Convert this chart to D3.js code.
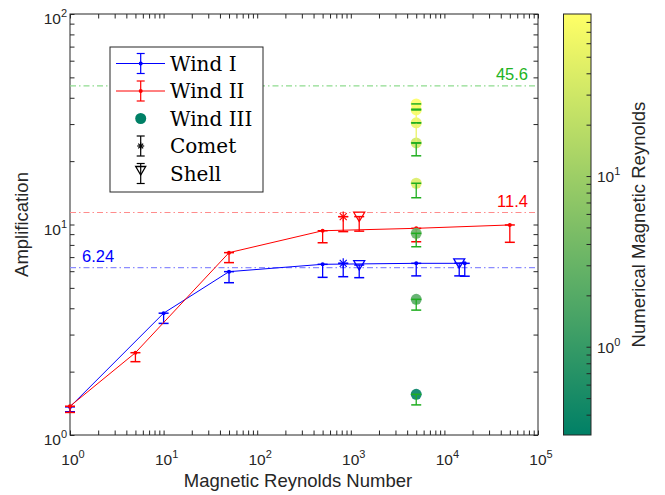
<!DOCTYPE html>
<html lang="en">
<head>
<meta charset="utf-8">
<title>Amplification</title>
<script src="https://cdn.jsdelivr.net/npm/d3@7"></script>
<style>
    body { margin: 0; background: #fff; }
    text { font-family: "Liberation Sans", Arial, sans-serif; fill: #262626; }
</style>
</head>
<body>
<svg id="chart" width="665" height="495"></svg>
<script>
// Wind I
const wind1Rm = [1, 10, 50, 500, 5000, 16500]
const wind1Amp = [1.36, 3.79, 5.97, 6.47, 6.54, 6.54]
const wind1Lo = [1.29, 3.39, 5.29, 5.61, 5.70, 5.68]
// Wind II
const wind2Rm = [1, 5, 50, 500, 5000, 50000]
const wind2Amp = [1.37, 2.46, 7.35, 9.34, 9.59, 9.95]
const wind2Lo = [1.28, 2.23, 6.59, 8.19, 8.28, 8.23]
// Wind III, all at Rm = 5000, coloured by numerical Rm
const wind3Rm = 5000
const wind3Amp = [37.4, 35.0, 30.4, 24.4, 15.7, 9.08, 4.41, 1.56]
const wind3Lo = [35.3, 30.4, 24.4, 21.2, 13.4, 7.84, 3.92, 1.39]
const wind3Num = [85, 75, 55, 30, 40, 3, 2.2, 0.32]
// Comet and Shell runs
const cometRm = [830, 830]
const cometAmp = [6.54, 10.9]
const cometLo = [5.65, 9.25]
const cometSeries = ['Wind I', 'Wind II']
const shellRm = [1230, 1230, 14400]
const shellAmp = [6.42, 10.9, 6.55]
const shellLo = [5.59, 9.3, 5.70]
const shellSeries = ['Wind I', 'Wind II', 'Wind I']
// saturation levels
const refValues = [45.6, 11.4, 6.24]
const refSeries = ['Wind III', 'Wind II', 'Wind I']
const legendLabels = ['Wind I', 'Wind II', 'Wind III', 'Comet', 'Shell']
const xMajor = [1, 10, 100, 1000, 10000, 100000]
const yMajor = [1, 10, 100]
const cbMajor = [1, 10]
const cbDomain = [0.304, 89]

const colors = { 'Wind I': '#0000ff', 'Wind II': '#ff0000', 'Wind III': '#1fae1f' }
const refLineColors = { 'Wind I': '#8c8cff', 'Wind II': '#ff8c8c', 'Wind III': '#8fdc8f' }
const refLabelColors = { 'Wind I': '#0000ff', 'Wind II': '#ff0000', 'Wind III': '#22b322' }

const svg = d3.select('#chart')
const x = d3.scaleLog().domain([1, 1e5]).range([70, 538])
const y = d3.scaleLog().domain([1, 100]).range([435, 14])
const cb = d3.scaleLog().domain(cbDomain).range([435, 14])
const summer = t => d3.rgb(255 * t, 255 * (0.5 + 0.5 * t), 102)
const tOf = v => Math.max(0, Math.min(1, (Math.log10(v) - Math.log10(cbDomain[0])) / (Math.log10(cbDomain[1]) - Math.log10(cbDomain[0]))))

function supLabel(sel, v) {
    sel.append('tspan').text('10')
    sel.append('tspan').attr('dy', -7).attr('font-size', 11).text(Math.round(Math.log10(v)))
}

// axes box and ticks
const tk = 4.5
const axisG = svg.append('g')
axisG.append('g').attr('transform', 'translate(0,435)')
    .call(d3.axisBottom(x).tickValues(x.ticks()).tickSize(-tk).tickFormat(''))
axisG.append('g').attr('transform', 'translate(0,14)')
    .call(d3.axisTop(x).tickValues(x.ticks()).tickSize(-tk).tickFormat(''))
axisG.append('g').attr('transform', 'translate(70,0)')
    .call(d3.axisLeft(y).tickValues(y.ticks()).tickSize(-tk).tickFormat(''))
axisG.append('g').attr('transform', 'translate(538,0)')
    .call(d3.axisRight(y).tickValues(y.ticks()).tickSize(-tk).tickFormat(''))
axisG.selectAll('.domain').remove()
axisG.selectAll('line').attr('stroke', '#262626')
svg.append('rect').attr('x', 70).attr('y', 14).attr('width', 468).attr('height', 421)
    .attr('fill', 'none').attr('stroke', '#262626').attr('stroke-width', 1)

xMajor.forEach(v => {
    svg.append('text').attr('x', x(v) + 3).attr('y', 465).attr('font-size', 15.5)
        .attr('text-anchor', 'middle').call(supLabel, v)
})
yMajor.forEach(v => {
    svg.append('text').attr('x', 67).attr('y', y(v) + 10).attr('font-size', 15.5)
        .attr('text-anchor', 'end').call(supLabel, v)
})
svg.append('text').attr('x', 298).attr('y', 487).attr('font-size', 18.5)
    .attr('text-anchor', 'middle').text('Magnetic Reynolds Number')
svg.append('text').attr('transform', 'translate(28,224.5) rotate(-90)').attr('font-size', 18.5)
    .attr('text-anchor', 'middle').text('Amplification')

// saturation reference lines
refValues.forEach((v, i) => {
    const s = refSeries[i]
    svg.append('line').attr('x1', 70).attr('x2', 538).attr('y1', y(v)).attr('y2', y(v))
        .attr('stroke', refLineColors[s]).attr('stroke-width', 1.2).attr('stroke-dasharray', '6,3,1.5,3')
    const left = s === 'Wind I'
    svg.append('text').attr('x', left ? 82 : 528).attr('y', y(v) - 6)
        .attr('text-anchor', left ? 'start' : 'end').attr('font-size', 16.5)
        .style('fill', refLabelColors[s]).text(v)
})

function errBar(g, cx, v, lo, c, w) {
    g.append('line').attr('x1', cx).attr('x2', cx).attr('y1', y(v)).attr('y2', y(lo))
        .attr('stroke', c).attr('stroke-width', 1.3)
    ;[v, lo].forEach(e => g.append('line').attr('x1', cx - w).attr('x2', cx + w)
        .attr('y1', y(e)).attr('y2', y(e)).attr('stroke', c).attr('stroke-width', 1.5))
}

// Wind I and II lines
;[[wind1Rm, wind1Amp, wind1Lo, 'Wind I'], [wind2Rm, wind2Amp, wind2Lo, 'Wind II']].forEach(([xs, ys, los, name]) => {
    const g = svg.append('g')
    const pts = xs.map((d, i) => [x(d), y(ys[i])])
    g.append('path').attr('d', d3.line()(pts)).attr('fill', 'none')
        .attr('stroke', colors[name]).attr('stroke-width', 1)
    xs.forEach((d, i) => {
        errBar(g, x(d), ys[i], los[i], colors[name], 5)
        g.append('circle').attr('cx', x(d)).attr('cy', y(ys[i])).attr('r', 2).attr('fill', colors[name])
    })
})

// Wind III circles then error bars
const g3 = svg.append('g')
wind3Amp.forEach((v, i) => {
    g3.append('circle').attr('cx', x(wind3Rm)).attr('cy', y(v)).attr('r', 5.5)
        .attr('fill', summer(tOf(wind3Num[i]))).attr('fill-opacity', 0.9)
})
wind3Amp.forEach((v, i) => {
    // the stems of the brightest runs take their own colour
    const c = wind3Num[i] > 50 ? summer(tOf(wind3Num[i])) : colors['Wind III']
    g3.append('line').attr('x1', x(wind3Rm)).attr('x2', x(wind3Rm)).attr('y1', y(v)).attr('y2', y(wind3Lo[i]))
        .attr('stroke', c).attr('stroke-width', 1.3)
    ;[v, wind3Lo[i]].forEach(e => g3.append('line').attr('x1', x(wind3Rm) - 5).attr('x2', x(wind3Rm) + 5)
        .attr('y1', y(e)).attr('y2', y(e)).attr('stroke', colors['Wind III']).attr('stroke-width', 1.5))
})

// Comet: asterisk markers, Shell: open down triangles
function asterisk(g, cx, cy, r, c) {
    ;[[0, r], [r, 0], [0.7 * r, 0.7 * r], [0.7 * r, -0.7 * r]].forEach(([dx, dy]) =>
        g.append('line').attr('x1', cx - dx).attr('x2', cx + dx).attr('y1', cy - dy).attr('y2', cy + dy)
            .attr('stroke', c).attr('stroke-width', 1.2))
}
function triDown(g, cx, cy, r, c) {
    g.append('path').attr('d', `M${cx - r},${cy - r * 0.8}L${cx + r},${cy - r * 0.8}L${cx},${cy + r * 0.9}Z`)
        .attr('fill', 'none').attr('stroke', c).attr('stroke-width', 1.3)
}
const gc = svg.append('g')
cometRm.forEach((d, i) => {
    const c = colors[cometSeries[i]]
    errBar(gc, x(d), cometAmp[i], cometLo[i], c, 5)
    asterisk(gc, x(d), y(cometAmp[i]), 5, c)
})
shellRm.forEach((d, i) => {
    const c = colors[shellSeries[i]]
    errBar(gc, x(d), shellAmp[i], shellLo[i], c, 5)
    triDown(gc, x(d), y(shellAmp[i]), 5.5, c)
})

// legend
const leg = svg.append('g')
leg.append('rect').attr('x', 110).attr('y', 47).attr('width', 153).attr('height', 145)
    .attr('fill', '#fff').attr('stroke', '#262626').attr('stroke-width', 1)
legendLabels.forEach((name, i) => {
    const ly = 63.5 + i * 27.5, mx = 140.7
    const c = colors[name] || '#000'
    const row = leg.append('g')
    if (name === 'Wind I' || name === 'Wind II') {
        row.append('line').attr('x1', 116).attr('x2', 165).attr('y1', ly).attr('y2', ly).attr('stroke', c)
    }
    if (name !== 'Wind III') {
        row.append('line').attr('x1', mx).attr('x2', mx).attr('y1', ly - 10).attr('y2', ly + 10)
            .attr('stroke', c).attr('stroke-width', 1.2)
        ;[ly - 10, ly + 10].forEach(e => row.append('line').attr('x1', mx - 4).attr('x2', mx + 4)
            .attr('y1', e).attr('y2', e).attr('stroke', c).attr('stroke-width', 1.2))
    }
    if (name === 'Wind III') row.append('circle').attr('cx', mx).attr('cy', ly).attr('r', 5.5).attr('fill', summer(0))
    else if (name === 'Comet') asterisk(row, mx, ly, 3.5, c)
    else if (name === 'Shell') triDown(row, mx, ly - 3, 5, c)
    else row.append('circle').attr('cx', mx).attr('cy', ly).attr('r', 2).attr('fill', c)
    row.append('text').attr('x', 170).attr('y', ly + 7).attr('font-size', 20)
        .style('font-family', '"DejaVu Serif", serif').style('fill', '#000').text(name)
})

// colorbar
const defs = svg.append('defs')
const grad = defs.append('linearGradient').attr('id', 'summer')
    .attr('x1', 0).attr('x2', 0).attr('y1', 1).attr('y2', 0)
d3.range(0, 1.0001, 0.1).forEach(t => grad.append('stop')
    .attr('offset', t).attr('stop-color', summer(t)))
svg.append('rect').attr('x', 563.5).attr('y', 14).attr('width', 27.5).attr('height', 421)
    .attr('fill', 'url(#summer)').attr('stroke', '#262626').attr('stroke-width', 1)
svg.append('g').attr('transform', 'translate(591,0)')
    .call(d3.axisRight(cb).tickValues(cb.ticks().filter(v => v > cbDomain[0] && v < cbDomain[1]))
        .tickSize(-4.5).tickFormat(''))
    .call(g => { g.select('.domain').remove(); g.selectAll('line').attr('stroke', '#262626') })
cbMajor.forEach(v => {
    svg.append('text').attr('x', 597).attr('y', cb(v) + 6).attr('font-size', 15.5).call(supLabel, v)
})
svg.append('text').attr('transform', 'translate(645,224.5) rotate(-90)').attr('font-size', 18.5)
    .attr('text-anchor', 'middle').text('Numerical Magnetic Reynolds')
</script>
</body>
</html>
